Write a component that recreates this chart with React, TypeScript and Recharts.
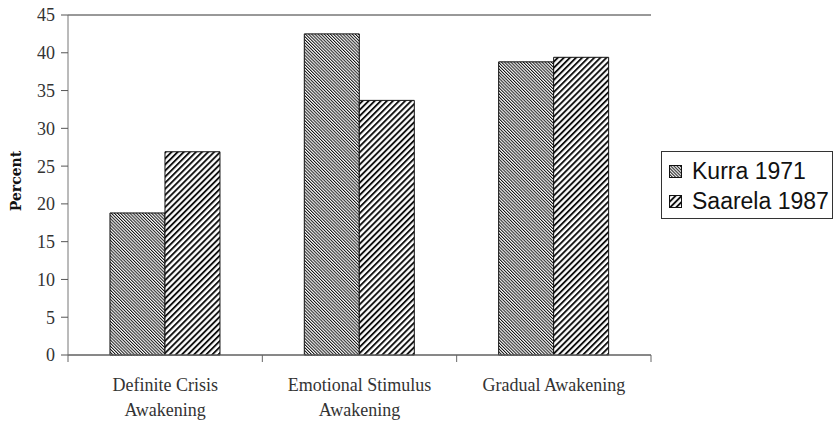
import { BarChart, Bar, XAxis, YAxis, CartesianGrid, Legend, Label } from "recharts";

const categories = [
  ["Definite Crisis", "Awakening"],
  ["Emotional Stimulus", "Awakening"],
  ["Gradual Awakening"],
];
const kurra1971 = [18.8, 42.5, 38.8];
const saarela1987 = [26.9, 33.7, 39.4];
const yTicks = [0, 5, 10, 15, 20, 25, 30, 35, 40, 45];
const seriesNames = ["Kurra 1971", "Saarela 1987"];

const data = categories.map((c, i) => ({
  name: c.join(" "),
  lines: c,
  kurra: kurra1971[i],
  saarela: saarela1987[i],
}));

const W = 839;
const H = 428;
const PLOT_LEFT = 68;
const PLOT_RIGHT = 651;
const PLOT_TOP = 15;
const PLOT_BOTTOM = 355;
const BAND = (PLOT_RIGHT - PLOT_LEFT) / categories.length;

const serif = "'Liberation Serif', 'Times New Roman', serif";
const sans = "'Liberation Sans', Arial, sans-serif";

function Patterns() {
  return (
    <svg width={0} height={0} style={{ position: "absolute" }}>
      <defs>
        <pattern id="kurra" width={2.2} height={2.2} patternUnits="userSpaceOnUse" patternTransform="rotate(-45)">
          <rect width={2.2} height={2.2} fill="#fff" />
          <rect width={1} height={2.2} fill="#111" />
        </pattern>
        <pattern id="saarela" width={4.3} height={4.3} patternUnits="userSpaceOnUse" patternTransform="rotate(45)">
          <rect width={4.3} height={4.3} fill="#fff" />
          <rect width={1.9} height={4.3} fill="#111" />
        </pattern>
      </defs>
    </svg>
  );
}

function XTick(props: any) {
  const { x, payload, index } = props;
  const lines: string[] = data[index]?.lines ?? [payload.value];
  const left = x - BAND / 2;
  const right = x + BAND / 2;
  return (
    <g>
      <line x1={left} x2={left} y1={PLOT_BOTTOM} y2={PLOT_BOTTOM + 7} stroke="#666" />
      {index === categories.length - 1 && (
        <line x1={right} x2={right} y1={PLOT_BOTTOM} y2={PLOT_BOTTOM + 7} stroke="#666" />
      )}
      {lines.map((l, i) => (
        <text
          key={i}
          x={x}
          y={PLOT_BOTTOM + 36 + i * 25}
          textAnchor="middle"
          fontFamily={serif}
          fontSize={18}
          fill="#333"
        >
          {l}
        </text>
      ))}
    </g>
  );
}

function LegendBox() {
  const fills = ["url(#kurra)", "url(#saarela)"];
  return (
    <div
      style={{
        position: "absolute",
        left: 661,
        top: 151,
        width: 170,
        height: 66,
        border: "1px solid #333",
        background: "#fff",
        fontFamily: sans,
        fontSize: 23,
        color: "#111",
      }}
    >
      {seriesNames.map((n, i) => (
        <div
          key={n}
          style={{ position: "absolute", left: 7, top: 4 + i * 30, height: 30, display: "flex", alignItems: "center", whiteSpace: "nowrap" }}
        >
          <svg width={13} height={13} style={{ marginRight: 10 }}>
            <rect x={0.5} y={0.5} width={12} height={12} fill={fills[i]} stroke="#111" />
          </svg>
          <span>{n}</span>
        </div>
      ))}
    </div>
  );
}

export default function App() {
  return (
    <div style={{ position: "relative", width: W, height: H, background: "#fff" }}>
      <style>{"body{margin:0}"}</style>
      <Patterns />
      <BarChart
        width={W}
        height={H}
        data={data}
        margin={{ top: PLOT_TOP, right: W - PLOT_RIGHT, left: 0, bottom: 0 }}
        barCategoryGap="21.6%"
        barGap={0}
      >
        <CartesianGrid vertical={false} stroke="#333" strokeWidth={1} />
        <XAxis
          dataKey="name"
          height={H - PLOT_BOTTOM}
          tickLine={false}
          axisLine={{ stroke: "#777" }}
          interval={0}
          tick={<XTick />}
        />
        <YAxis
          yAxisId="left"
          width={PLOT_LEFT}
          domain={[0, 45]}
          ticks={yTicks}
          interval={0}
          axisLine={{ stroke: "#777" }}
          tickLine={{ stroke: "#555" }}
          tickSize={7}
          tickMargin={6}
          tick={{ fontFamily: serif, fontSize: 18, fill: "#333" }}
        >
          <Label
            content={({ viewBox }: any) => {
              const cx = 16;
              const cy = viewBox.y + viewBox.height / 2 - 4;
              return (
                <text
                  x={cx}
                  y={cy}
                  transform={`rotate(-90, ${cx}, ${cy})`}
                  textAnchor="middle"
                  dominantBaseline="central"
                  fontFamily="'DejaVu Serif', serif"
                  fontWeight="bold"
                  fontSize={14}
                  fill="#111"
                >
                  Percent
                </text>
              );
            }}
          />
        </YAxis>
        <YAxis
          yAxisId="right"
          orientation="right"
          width={0}
          domain={[0, 45]}
          tick={false}
          tickLine={false}
          axisLine={{ stroke: "#999" }}
        />
        <Bar yAxisId="left" dataKey="kurra" name={seriesNames[0]} fill="url(#kurra)" stroke="#111" strokeWidth={1} isAnimationActive={false} />
        <Bar yAxisId="left" dataKey="saarela" name={seriesNames[1]} fill="url(#saarela)" stroke="#111" strokeWidth={1} isAnimationActive={false} />
        <Legend content={() => null} />
      </BarChart>
      <LegendBox />
    </div>
  );
}
